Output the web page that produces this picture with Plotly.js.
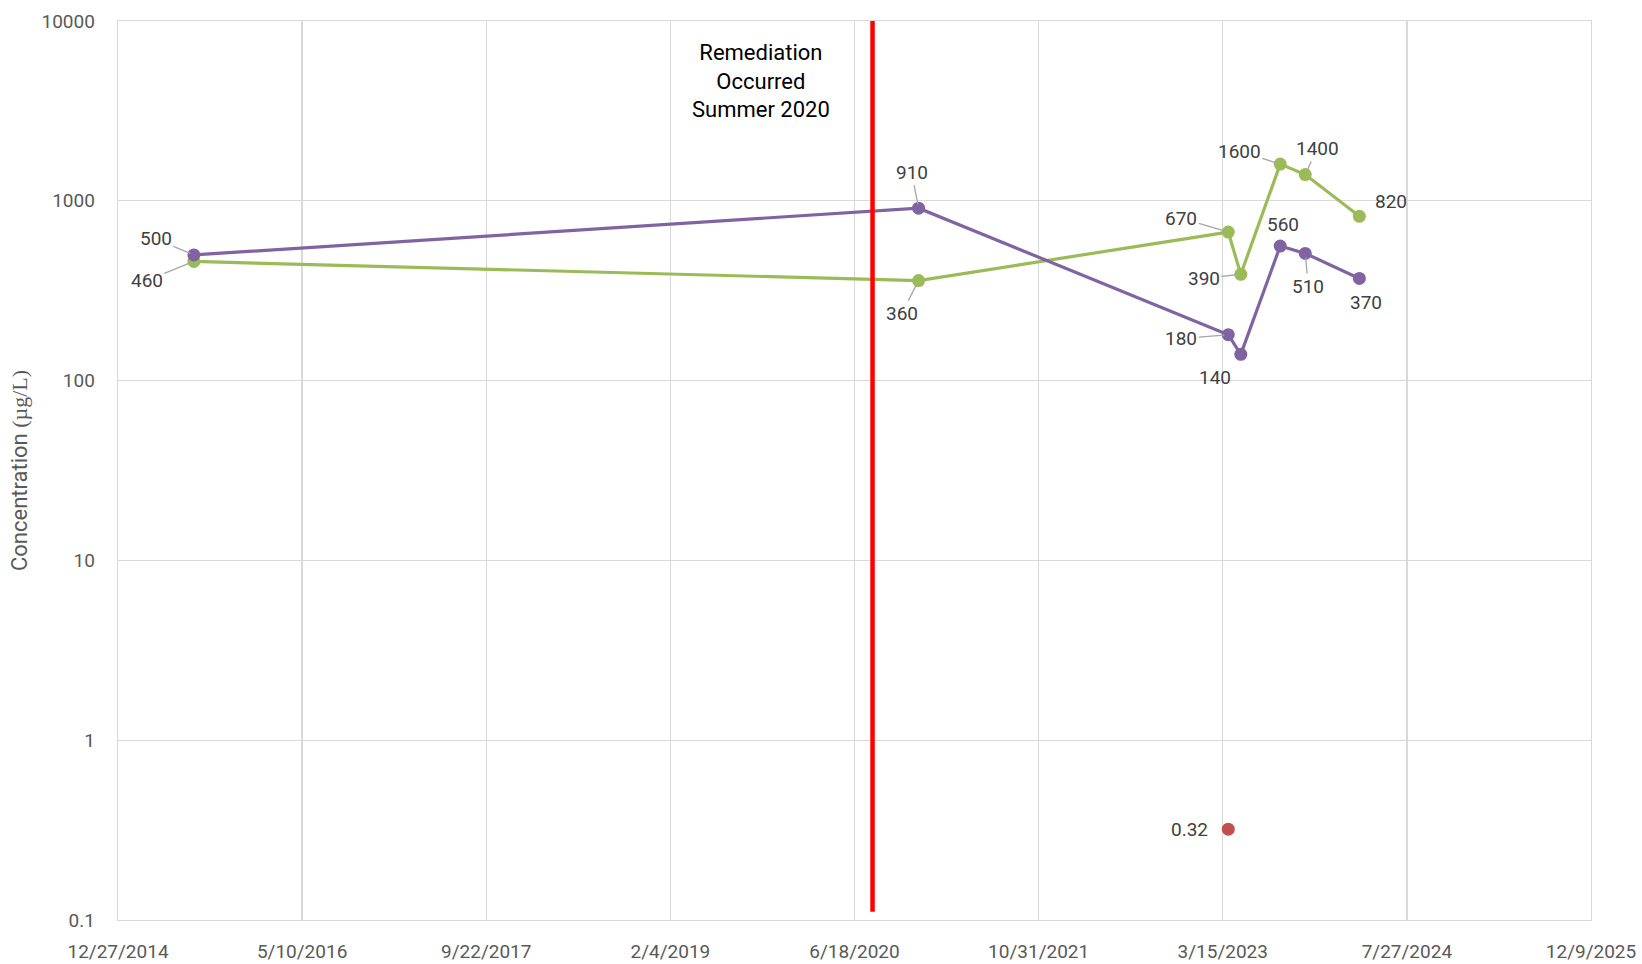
<!DOCTYPE html>
<html>
<head>
<meta charset="utf-8">
<script src="https://cdn.plot.ly/plotly-3.0.1.min.js"></script>
<style>
  html, body { margin: 0; padding: 0; background: #ffffff; }
  #chart { width: 1642px; height: 964px; }
</style>
</head>
<body>
<div id="chart"></div>
<script>
// Sampling dates and measured concentrations (µg/L)
const sampleDates = ['2015-07-21', '2020-12-09', '2023-03-30', '2023-05-03', '2023-08-18', '2023-10-25', '2024-03-20'];
const purpleValues = [500, 910, 180, 140, 560, 510, 370];
const greenValues = [460, 360, 670, 390, 1600, 1400, 820];
const redDates = ['2023-03-30'];
const redValues = [0.32];

// Date of the remediation marker line
const remediationDate = '2020-08-06';
const remediationSpan = [0.111, 10500];

// Axis ticks
const xStart = '2014-12-27';
const xEnd = '2025-12-09 00:01';
const xTickDays = 500;
const yTickVals = [0.1, 1, 10, 100, 1000, 10000];
const yTickText = ['0.1', '1', '10', '100', '1000', '10000'];

// Label placement: [x offset px, y offset px, leader line]
const purpleLabelPos = [[-38, -16, true], [-7, -36, true], [-47, 4, true], [-26, 23, false], [3, -22, false], [3, 33, true], [7, 24, false]];
const greenLabelPos = [[-47, 19, true], [-17, 33, true], [-47, -14, true], [-37, 4, true], [-41, -13, true], [12, -26, true], [32, -15, false]];
const redLabelPos = [[-39, 0, false]];

const PURPLE = '#8064A2';
const GREEN = '#9BBB59';
const RED = '#C0504D';
const GRID = '#D9D9D9';
const FONT = 'Roboto, "Open Sans", Arial, sans-serif';

function lineTrace(x, y, color) {
  return {
    type: 'scatter', mode: 'lines+markers', x: x, y: y,
    line: { color: color, width: 3.2 },
    marker: { color: color, size: 13 },
    hoverinfo: 'x+y', showlegend: false
  };
}

const traces = [
  lineTrace(sampleDates, greenValues, GREEN),
  lineTrace(sampleDates, purpleValues, PURPLE),
  {
    type: 'scatter', mode: 'markers', x: redDates, y: redValues,
    marker: { color: RED, size: 13 }, showlegend: false
  },
  {
    type: 'scatter', mode: 'lines',
    x: [remediationDate, remediationDate], y: remediationSpan,
    line: { color: '#FF0000', width: 4.5 },
    hoverinfo: 'skip', showlegend: false, cliponaxis: false
  }
];

function labelAnnotations(x, y, pos) {
  return y.map(function (v, i) {
    const p = pos[i];
    const base = {
      x: x[i], y: Math.log10(v), xref: 'x', yref: 'y',
      text: String(v),
      font: { family: FONT, size: 19, color: '#404040' }
    };
    if (p[2]) {
      return Object.assign(base, {
        showarrow: true, axref: 'pixel', ayref: 'pixel', ax: p[0], ay: p[1],
        arrowhead: 0, arrowwidth: 1.3, arrowcolor: '#A6A6A6', standoff: 4
      });
    }
    return Object.assign(base, { showarrow: false, xshift: p[0], yshift: -p[1] });
  });
}

const annotations = []
  .concat(labelAnnotations(sampleDates, purpleValues, purpleLabelPos))
  .concat(labelAnnotations(sampleDates, greenValues, greenLabelPos))
  .concat(labelAnnotations(redDates, redValues, redLabelPos))
  .concat([{
    xref: 'paper', yref: 'paper', x: 0.4365, y: 0.9328,
    xanchor: 'center', yanchor: 'middle', showarrow: false,
    text: 'Remediation<br>Occurred<br>Summer 2020',
    font: { family: FONT, size: 22, color: '#000000' }
  }]);

const layout = {
  width: 1642, height: 964,
  margin: { l: 118, r: 51, t: 21, b: 44, pad: 0 },
  paper_bgcolor: '#ffffff', plot_bgcolor: '#ffffff',
  showlegend: false,
  xaxis: {
    type: 'date', range: [xStart, xEnd],
    tick0: xStart, dtick: xTickDays * 86400000,
    tickformat: '%-m/%-d/%Y',
    showgrid: true, gridcolor: GRID, gridwidth: 1.3,
    showline: true, linecolor: GRID, linewidth: 1.3, mirror: true,
    zeroline: false, ticks: '', ticklabelstandoff: 14,
    tickfont: { family: FONT, size: 19, color: '#595959' }
  },
  yaxis: {
    type: 'log', range: [-1, 4],
    tickmode: 'array', tickvals: yTickVals, ticktext: yTickText,
    showgrid: true, gridcolor: GRID, gridwidth: 1.3,
    showline: true, linecolor: GRID, linewidth: 1.3, mirror: true,
    zeroline: false, ticks: '', ticklabelstandoff: 18,
    tickfont: { family: FONT, size: 19, color: '#595959' },
    title: {
      text: 'Concentration <span style="font-family:\'Liberation Serif\', serif">(µg/L)</span>',
      font: { family: FONT, size: 22, color: '#595959' },
      standoff: 7
    }
  },
  annotations: annotations
};

Plotly.newPlot('chart', traces, layout, { displayModeBar: false, staticPlot: true });
</script>
</body>
</html>
